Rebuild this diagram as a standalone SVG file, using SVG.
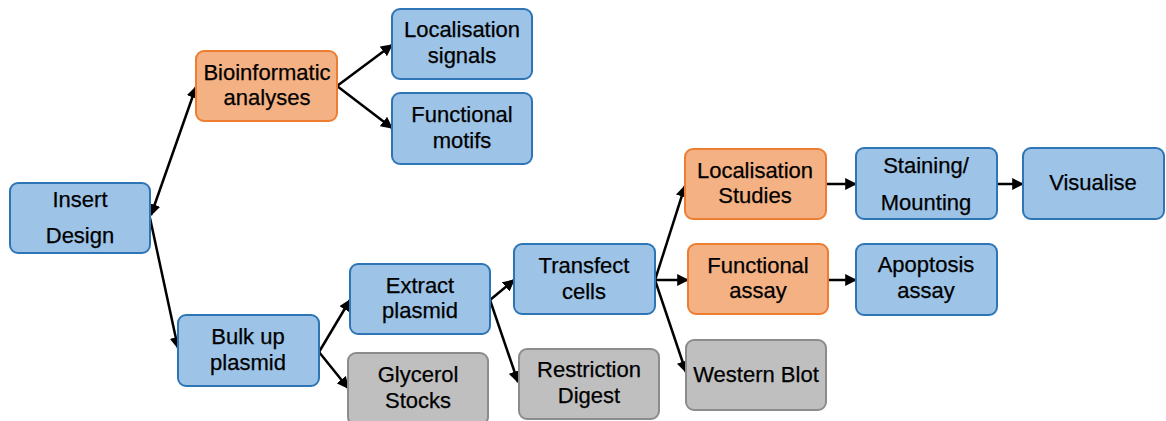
<svg xmlns="http://www.w3.org/2000/svg" width="1166" height="421" viewBox="0 0 1166 421">
<style>
.n rect{stroke-width:2}
.blue rect{fill:#9DC3E6;stroke:#2E75B6}
.orange rect{fill:#F4B183;stroke:#ED7D31}
.gray rect{fill:#BFBFBF;stroke:#8C8C8C}
text{font-family:"Liberation Sans",Arial,sans-serif;font-size:22px;fill:#000;text-anchor:middle;stroke:#000;stroke-width:0.25}
.c line{stroke:#000;stroke-width:2.5;fill:none}
</style>
<defs>
<marker id="ah" viewBox="0 0 10 10" refX="9" refY="5" markerWidth="4.8" markerHeight="4.8" orient="auto-start-reverse" markerUnits="strokeWidth">
<path d="M0,0 L10,5 L0,10 Z" fill="#000"/>
</marker>
</defs>
<g class="c">
<line x1="151" y1="215" x2="196" y2="87" marker-start="url(#ah)" marker-end="url(#ah)"/>
<line x1="150" y1="218" x2="178" y2="348" marker-end="url(#ah)"/>
<line x1="337" y1="86" x2="392" y2="45" marker-end="url(#ah)"/>
<line x1="337" y1="86" x2="392" y2="128" marker-end="url(#ah)"/>
<line x1="319" y1="352" x2="350" y2="300" marker-end="url(#ah)"/>
<line x1="319" y1="352" x2="348" y2="388" marker-end="url(#ah)"/>
<line x1="490" y1="300" x2="514" y2="280" marker-end="url(#ah)"/>
<line x1="490" y1="300" x2="518" y2="382" marker-end="url(#ah)"/>
<line x1="655" y1="280" x2="685" y2="186" marker-end="url(#ah)"/>
<line x1="655" y1="280" x2="688" y2="280" marker-end="url(#ah)"/>
<line x1="655" y1="280" x2="686" y2="372" marker-end="url(#ah)"/>
<line x1="826" y1="184" x2="856" y2="184" marker-end="url(#ah)"/>
<line x1="828" y1="280" x2="856" y2="280" marker-end="url(#ah)"/>
<line x1="997" y1="184" x2="1023" y2="184" marker-end="url(#ah)"/>
</g>
<g id="insert-design" class="n blue"><rect x="10" y="183" width="140" height="70" rx="8"/><text x="80" y="207">Insert</text><text x="80" y="243">Design</text></g>
<g id="bioinformatic" class="n orange"><rect x="196" y="51" width="141" height="70" rx="8"/><text x="267" y="80">Bioinformatic</text><text x="267" y="105">analyses</text></g>
<g id="loc-signals" class="n blue"><rect x="392" y="9" width="140" height="70" rx="8"/><text x="462" y="37">Localisation</text><text x="462" y="63">signals</text></g>
<g id="func-motifs" class="n blue"><rect x="392" y="93" width="140" height="71" rx="8"/><text x="462" y="122">Functional</text><text x="462" y="148">motifs</text></g>
<g id="bulk-up" class="n blue"><rect x="178" y="315" width="141" height="71" rx="8"/><text x="248" y="344">Bulk up</text><text x="248" y="370">plasmid</text></g>
<g id="extract" class="n blue"><rect x="350" y="264" width="140" height="70" rx="8"/><text x="420" y="293">Extract</text><text x="420" y="318">plasmid</text></g>
<g id="glycerol" class="n gray"><rect x="348" y="353" width="140" height="72" rx="8"/><text x="418" y="382">Glycerol</text><text x="418" y="408">Stocks</text></g>
<g id="transfect" class="n blue"><rect x="514" y="244" width="141" height="70" rx="8"/><text x="584" y="273">Transfect</text><text x="584" y="299">cells</text></g>
<g id="restriction" class="n gray"><rect x="519" y="349" width="140" height="70" rx="8"/><text x="589" y="377">Restriction</text><text x="589" y="403">Digest</text></g>
<g id="loc-studies" class="n orange"><rect x="685" y="149" width="141" height="70" rx="8"/><text x="755" y="178">Localisation</text><text x="755" y="203">Studies</text></g>
<g id="func-assay" class="n orange"><rect x="688" y="244" width="140" height="70" rx="8"/><text x="758" y="273">Functional</text><text x="758" y="298">assay</text></g>
<g id="western" class="n gray"><rect x="686" y="340" width="140" height="70" rx="8"/><text x="756" y="382">Western Blot</text></g>
<g id="staining" class="n blue"><rect x="856" y="148" width="141" height="71" rx="8"/><text x="926" y="173">Staining/</text><text x="926" y="210">Mounting</text></g>
<g id="visualise" class="n blue"><rect x="1023" y="148" width="141" height="71" rx="8"/><text x="1093" y="190">Visualise</text></g>
<g id="apoptosis" class="n blue"><rect x="856" y="244" width="141" height="71" rx="8"/><text x="926" y="272">Apoptosis</text><text x="926" y="298">assay</text></g>
</svg>
